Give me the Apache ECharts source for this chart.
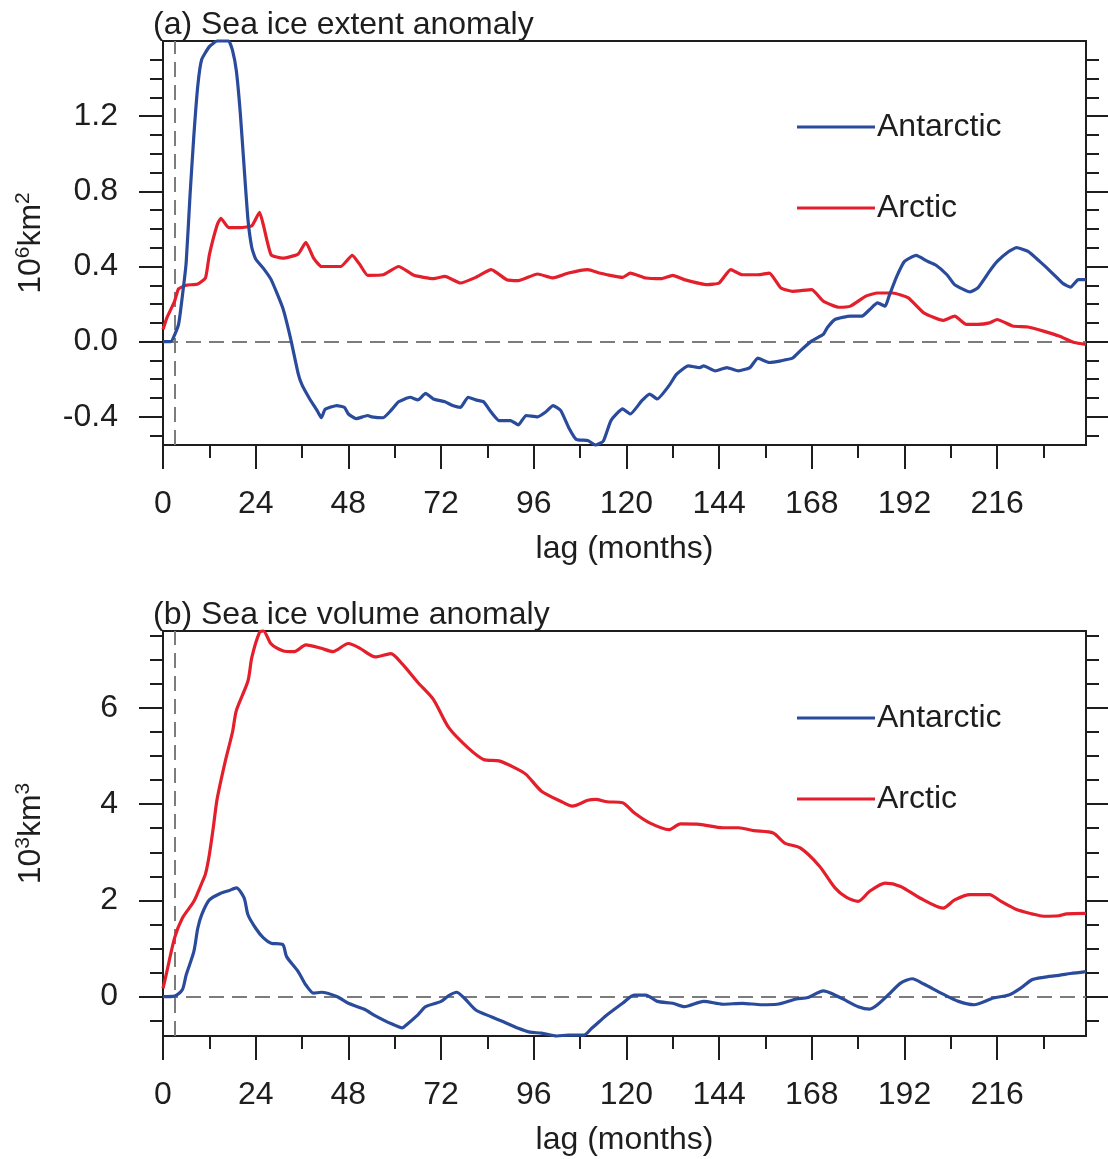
<!DOCTYPE html>
<html>
<head>
<meta charset="utf-8">
<title>Sea ice anomalies vs lag</title>
<script src="https://cdn.jsdelivr.net/npm/echarts@6/dist/echarts.min.js"></script>
<style>
  html, body { margin: 0; padding: 0; background: #ffffff; }
  #chart { width: 1108px; height: 1159px; }
</style>
</head>
<body>
<div id="chart"></div>
<script>
// ---- axis ticks (months of lag, anomaly values) ----
const lagTicks = [0, 24, 48, 72, 96, 120, 144, 168, 192, 216];
const lagMinorTicks = [12, 36, 60, 84, 108, 132, 156, 180, 204, 228];
const extentTicks = [-0.4, 0.0, 0.4, 0.8, 1.2];
const extentMinorTicks = [-0.5, -0.3, -0.2, -0.1, 0.1, 0.2, 0.3, 0.5, 0.6, 0.7, 0.9, 1.0, 1.1, 1.3, 1.4, 1.5];
const volumeTicks = [0, 2, 4, 6];
const volumeMinorTicks = [-0.5, 0.5, 1, 1.5, 2.5, 3, 3.5, 4.5, 5, 5.5, 6.5, 7, 7.5];

// ---- (a) sea ice extent anomaly, 10^6 km^2 ----
const antExtentLag = [0, 2, 4, 5, 6, 7, 8, 9, 10, 12, 14, 17, 18, 19, 20, 21, 22, 23, 24, 26, 28, 31, 33, 35, 36, 38, 40, 41, 42, 45, 47, 48, 50, 53, 54, 57, 59, 61, 64, 66, 68, 70, 73, 75, 77, 79, 81, 83, 85, 87, 90, 92, 94, 97, 99, 101, 103, 105, 107, 110, 112, 114, 116, 119, 121, 124, 126, 128, 131, 133, 136, 139, 140, 143, 146, 149, 152, 154, 157, 160, 163, 165, 168, 171, 172, 174, 178, 181, 183, 185, 187, 188, 190, 192, 195, 198, 200, 203, 205, 209, 211, 214, 216, 219, 221, 224, 227, 229, 231, 233, 235, 237, 239];
const antExtent = [0, 0.0, 0.09, 0.24, 0.42, 0.78, 1.1, 1.36, 1.5, 1.57, 1.6, 1.6, 1.55, 1.44, 1.22, 0.93, 0.65, 0.5, 0.44, 0.39, 0.33, 0.18, 0.02, -0.17, -0.23, -0.305, -0.37, -0.405, -0.36, -0.34, -0.35, -0.385, -0.41, -0.393, -0.40, -0.405, -0.367, -0.32, -0.296, -0.31, -0.275, -0.305, -0.32, -0.34, -0.35, -0.296, -0.31, -0.32, -0.376, -0.42, -0.42, -0.443, -0.393, -0.40, -0.376, -0.34, -0.367, -0.455, -0.52, -0.526, -0.55, -0.53, -0.42, -0.358, -0.385, -0.314, -0.279, -0.305, -0.235, -0.173, -0.129, -0.138, -0.129, -0.155, -0.138, -0.155, -0.138, -0.088, -0.111, -0.102, -0.088, -0.049, 0.004, 0.039, 0.074, 0.118, 0.136, 0.136, 0.171, 0.206, 0.189, 0.242, 0.347, 0.427, 0.459, 0.427, 0.409, 0.356, 0.303, 0.265, 0.286, 0.374, 0.427, 0.48, 0.50, 0.48, 0.427, 0.39, 0.35, 0.31, 0.29, 0.33, 0.33];

const arcExtentLag = [0, 1, 3, 4, 6, 9, 11, 12, 14, 15, 17, 20, 23, 25, 26, 28, 31, 35, 37, 39, 41, 46, 49, 51, 53, 57, 61, 65, 70, 73, 77, 81, 85, 89, 92, 97, 101, 105, 110, 113, 115, 119, 121, 125, 129, 132, 135, 141, 144, 147, 150, 154, 157, 160, 163, 168, 171, 175, 178, 182, 185, 189, 193, 197, 202, 205, 208, 211, 214, 216, 220, 224, 228, 232, 236, 239];
const arcExtent = [0.065, 0.127, 0.215, 0.28, 0.30, 0.307, 0.339, 0.462, 0.62, 0.656, 0.607, 0.607, 0.617, 0.688, 0.62, 0.462, 0.444, 0.466, 0.529, 0.444, 0.40, 0.40, 0.459, 0.409, 0.353, 0.356, 0.40, 0.353, 0.335, 0.347, 0.312, 0.342, 0.383, 0.33, 0.325, 0.36, 0.339, 0.365, 0.383, 0.365, 0.356, 0.342, 0.365, 0.339, 0.335, 0.353, 0.33, 0.303, 0.312, 0.383, 0.356, 0.356, 0.365, 0.286, 0.268, 0.277, 0.215, 0.183, 0.189, 0.242, 0.259, 0.259, 0.233, 0.153, 0.113, 0.136, 0.092, 0.092, 0.10, 0.118, 0.083, 0.078, 0.056, 0.03, -0.005, -0.015];

// ---- (b) sea ice volume anomaly, 10^3 km^3 ----
const antVolumeLag = [0, 3, 5, 6, 8, 9, 10, 12, 15, 17, 19, 21, 22, 24, 26, 28, 31, 32, 35, 37, 39, 41, 45, 48, 52, 55, 59, 62, 63, 66, 68, 72, 74, 76, 78, 81, 85, 88, 92, 95, 98, 102, 105, 109, 111, 113, 115, 119, 122, 125, 128, 132, 135, 140, 145, 150, 155, 159, 164, 167, 171, 173, 177, 180, 183, 185, 188, 191, 194, 197, 202, 206, 210, 215, 219, 222, 225, 228, 232, 235, 239];
const antVolume = [0, 0.01, 0.14, 0.45, 0.94, 1.42, 1.70, 2.01, 2.15, 2.20, 2.26, 2.05, 1.70, 1.42, 1.22, 1.11, 1.08, 0.83, 0.52, 0.24, 0.07, 0.09, 0.0, -0.14, -0.26, -0.40, -0.56, -0.65, -0.59, -0.38, -0.21, -0.10, 0.02, 0.09, -0.03, -0.28, -0.42, -0.52, -0.66, -0.74, -0.76, -0.82, -0.80, -0.80, -0.66, -0.52, -0.38, -0.14, 0.03, 0.03, -0.10, -0.14, -0.21, -0.10, -0.16, -0.14, -0.17, -0.16, -0.05, -0.02, 0.12, 0.07, -0.09, -0.21, -0.26, -0.17, 0.05, 0.28, 0.37, 0.26, 0.05, -0.10, -0.17, -0.03, 0.03, 0.17, 0.35, 0.40, 0.44, 0.48, 0.52];

const arcVolumeLag = [0, 1, 3, 5, 8, 10, 11, 12, 13, 14, 16, 18, 19, 22, 23, 25, 26, 28, 31, 34, 37, 41, 44, 48, 51, 55, 59, 62, 66, 70, 74, 79, 83, 87, 91, 94, 98, 103, 106, 110, 112, 115, 119, 122, 126, 131, 134, 139, 145, 149, 153, 158, 161, 165, 170, 174, 177, 180, 183, 187, 191, 196, 202, 205, 209, 214, 217, 221, 225, 228, 232, 234, 239];
const arcVolume = [0.17, 0.52, 1.22, 1.63, 1.98, 2.35, 2.55, 2.95, 3.5, 4.1, 4.85, 5.5, 5.95, 6.56, 7.05, 7.57, 7.6, 7.33, 7.19, 7.17, 7.31, 7.24, 7.17, 7.34, 7.24, 7.06, 7.13, 6.91, 6.53, 6.18, 5.59, 5.17, 4.93, 4.9, 4.76, 4.62, 4.27, 4.06, 3.96, 4.08, 4.1, 4.05, 4.03, 3.82, 3.61, 3.47, 3.59, 3.58, 3.51, 3.51, 3.45, 3.40, 3.19, 3.09, 2.71, 2.26, 2.06, 1.98, 2.19, 2.36, 2.29, 2.05, 1.84, 2.01, 2.12, 2.12, 1.98, 1.81, 1.72, 1.67, 1.68, 1.72, 1.73];

const REF_LAG = 3;

// ---- styling ----
const FONT = "'Liberation Sans', Arial, Helvetica, sans-serif";
const INK = '#1e1e1e';
const BLUE = '#2a4b9b';
const RED = '#e41e2b';
const GUIDE = '#7c7c7c';

const toPairs = (lags, vals) => lags.map((l, i) => [l, vals[i]]);

const panels = [
  {
    title: '(a) Sea ice extent anomaly', titleTop: 4,
    top: 41, height: 404, yMin: -0.55, yMax: 1.6,
    major: extentTicks, minor: extentMinorTicks,
    fmt: v => v.toFixed(1),
    unit: '{n|10}{s|6}{n|km}{s|2}',
    ant: toPairs(antExtentLag, antExtent), arc: toPairs(arcExtentLag, arcExtent),
    legendTop: [111, 192], smooth: 0.15
  },
  {
    title: '(b) Sea ice volume anomaly', titleTop: 594,
    top: 631, height: 405, yMin: -0.82, yMax: 7.6,
    major: volumeTicks, minor: volumeMinorTicks,
    fmt: v => String(v),
    unit: '{n|10}{s|3}{n|km}{s|3}',
    ant: toPairs(antVolumeLag, antVolume), arc: toPairs(arcVolumeLag, arcVolume),
    legendTop: [702, 783], smooth: 0.25
  }
];

const GRID_LEFT = 163, GRID_WIDTH = 923;
const tickLine = { color: INK, width: 2 };
const labelText = { fontFamily: FONT, fontSize: 32, color: INK };

const option = {
  backgroundColor: '#ffffff',
  animation: false,
  title: [], grid: [], xAxis: [], yAxis: [], legend: [], series: []
};

panels.forEach((p, g) => {
  option.title.push({
    text: p.title, left: 148, top: p.titleTop,
    textStyle: { fontFamily: FONT, fontSize: 32, fontWeight: 'normal', color: INK }
  });
  option.grid.push({
    left: GRID_LEFT, top: p.top, width: GRID_WIDTH, height: p.height,
    show: true, borderColor: INK, borderWidth: 2, backgroundColor: 'transparent'
  });

  // x axis with labelled ticks, plus an overlay axis carrying the short ticks
  option.xAxis.push({
    gridIndex: g, type: 'value', min: 0, max: 239, position: 'bottom',
    axisLine: { show: true, onZero: false, lineStyle: tickLine },
    axisTick: { show: true, inside: false, length: 24, lineStyle: tickLine, customValues: lagTicks },
    axisLabel: Object.assign({ show: true, margin: 43, customValues: lagTicks }, labelText),
    splitLine: { show: false },
    name: 'lag (months)', nameLocation: 'middle', nameGap: 88,
    nameTextStyle: labelText
  });
  option.xAxis.push({
    gridIndex: g, type: 'value', min: 0, max: 239, position: 'bottom',
    axisLine: { show: false, onZero: false },
    axisTick: { show: true, inside: false, length: 13, lineStyle: tickLine, customValues: lagMinorTicks },
    axisLabel: { show: false }, splitLine: { show: false }
  });

  // left y axis (labels + long ticks), left short ticks, right long and short ticks
  const yBase = { gridIndex: g, type: 'value', min: p.yMin, max: p.yMax, splitLine: { show: false } };
  option.yAxis.push(Object.assign({}, yBase, {
    position: 'left',
    axisLine: { show: true, onZero: false, lineStyle: tickLine },
    axisTick: { show: true, inside: false, length: 24, lineStyle: tickLine, customValues: p.major },
    axisLabel: Object.assign({ show: true, margin: 45, customValues: p.major, formatter: p.fmt }, labelText),
    name: p.unit, nameLocation: 'middle', nameRotate: 90, nameGap: 114,
    nameTextStyle: {
      fontFamily: FONT, color: INK,
      rich: {
        n: { fontFamily: FONT, fontSize: 32, color: INK, lineHeight: 36 },
        s: { fontFamily: FONT, fontSize: 21, color: INK, verticalAlign: 'top', lineHeight: 36 }
      }
    }
  }));
  option.yAxis.push(Object.assign({}, yBase, {
    position: 'left',
    axisLine: { show: false, onZero: false },
    axisTick: { show: true, inside: false, length: 13, lineStyle: tickLine, customValues: p.minor },
    axisLabel: { show: false }
  }));
  option.yAxis.push(Object.assign({}, yBase, {
    position: 'right',
    axisLine: { show: true, onZero: false, lineStyle: tickLine },
    axisTick: { show: true, inside: false, length: 24, lineStyle: tickLine, customValues: p.major },
    axisLabel: { show: false, customValues: p.major }
  }));
  option.yAxis.push(Object.assign({}, yBase, {
    position: 'right',
    axisLine: { show: false, onZero: false },
    axisTick: { show: true, inside: false, length: 13, lineStyle: tickLine, customValues: p.minor },
    axisLabel: { show: false }
  }));

  const xi = g * 2, yi = g * 4;
  option.series.push({
    name: 'Arctic', type: 'line', xAxisIndex: xi, yAxisIndex: yi,
    data: p.arc, showSymbol: false, symbol: 'none', smooth: p.smooth, clip: false,
    lineStyle: { color: RED, width: 3.2 }, itemStyle: { color: RED }, z: 3
  });
  option.series.push({
    name: 'Antarctic', type: 'line', xAxisIndex: xi, yAxisIndex: yi,
    data: p.ant, showSymbol: false, symbol: 'none', smooth: p.smooth, clip: false,
    lineStyle: { color: BLUE, width: 3.2 }, itemStyle: { color: BLUE }, z: 4,
    markLine: {
      silent: true, symbol: ['none', 'none'], label: { show: false },
      lineStyle: { color: GUIDE, type: [15, 8], width: 2 },
      data: [{ yAxis: 0 }, { xAxis: REF_LAG }],
      z: 2
    }
  });

  ['Antarctic', 'Arctic'].forEach((nm, k) => {
    option.legend.push({
      data: [nm], left: 797, top: p.legendTop[k], orient: 'vertical',
      icon: 'rect', itemWidth: 78, itemHeight: 3, itemGap: 0,
      selectedMode: false, padding: 0,
      textStyle: { fontFamily: FONT, fontSize: 32, color: INK, padding: [0, 0, 0, -3] }
    });
  });
});

const chart = echarts.init(document.getElementById('chart'), null, { renderer: 'canvas' });
chart.setOption(option);
</script>
</body>
</html>
